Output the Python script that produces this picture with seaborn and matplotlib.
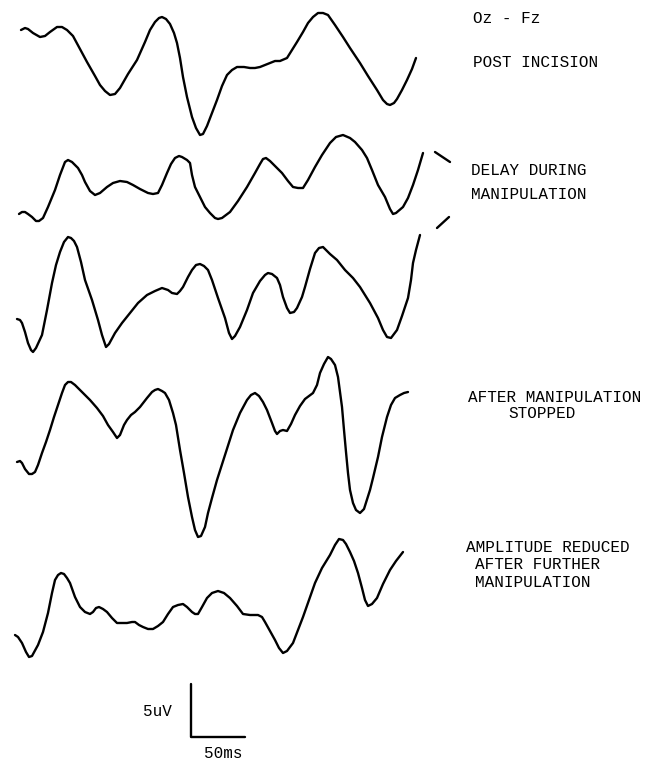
import pandas as pd
import matplotlib.pyplot as plt
import seaborn as sns

# Evoked potential traces (Oz - Fz).
# x = horizontal position, y = vertical position (image units, y grows downward)

post_incision_x = [21, 25, 28, 33, 40, 45, 50, 57, 62, 67, 73, 80, 87, 95, 100, 105, 110, 115, 120, 128, 137, 145,
                   150, 155, 159, 162, 166, 170, 174, 177, 180, 183, 187, 192, 196, 200, 203, 207, 212, 217, 222,
                   227, 232, 237, 244, 250, 255, 260, 265, 270, 275, 280, 287, 292, 297, 303, 308, 313, 318, 323,
                   328, 335, 343, 350, 360, 368, 377, 383, 387, 390, 394, 397, 402, 407, 412, 416]
post_incision_y = [30, 28, 29, 33, 37, 36, 32, 27, 27, 30, 36, 49, 62, 76, 85, 91, 95, 94, 88, 74, 60, 42,
                   30, 22, 18, 17, 19, 24, 33, 43, 58, 77, 97, 117, 128, 135, 134, 126, 113, 100, 86,
                   75, 70, 67, 67, 68, 68, 67, 65, 63, 61, 61, 58, 50, 42, 32, 23, 17, 13, 13,
                   15, 25, 37, 48, 63, 76, 90, 100, 104, 105, 103, 99, 90, 80, 69, 58]

delay_x = [19, 22, 25, 28, 32, 36, 39, 43, 48, 55, 60, 65, 68, 72, 78, 82, 85, 90, 95, 100, 107, 113, 120, 127,
           133, 140, 148, 153, 158, 162, 167, 171, 175, 179, 182, 187, 190, 192, 195, 200, 205, 210, 215, 218,
           222, 230, 238, 247, 255, 260, 263, 266, 270, 275, 282, 288, 293, 298, 303, 308, 315, 322, 330, 336,
           343, 350, 355, 362, 367, 372, 378, 385, 390, 393, 396, 403, 408, 413, 418, 423]
delay_y = [214, 212, 212, 214, 217, 221, 221, 218, 207, 190, 175, 162, 160, 162, 168, 175, 182, 191, 195, 193, 187, 183, 181, 182,
           185, 189, 193, 194, 193, 185, 173, 164, 158, 156, 157, 160, 163, 175, 187, 197, 207, 213, 218, 219,
           218, 212, 201, 187, 173, 164, 159, 158, 161, 166, 173, 181, 187, 188, 188, 180, 167, 155, 143, 137,
           135, 138, 142, 150, 158, 170, 185, 197, 209, 214, 213, 207, 198, 185, 170, 153]

third_x = [17, 20, 22, 25, 28, 31, 33, 36, 42, 47, 52, 56, 60, 64, 68, 71, 74, 77, 81, 85, 92, 98, 102, 106, 109,
           115, 122, 130, 138, 147, 155, 162, 168, 172, 177, 180, 183, 188, 192, 196, 200, 204, 208, 212, 218,
           225, 229, 232, 235, 240, 247, 253, 260, 265, 268, 272, 277, 280, 283, 287, 290, 294, 297, 302, 305,
           310, 315, 319, 323, 330, 337, 345, 353, 360, 370, 378, 383, 387, 391, 397, 402, 408, 411, 413, 416, 420]
third_y = [319, 320, 323, 332, 343, 350, 352, 348, 335, 310, 283, 265, 252, 242, 237, 238, 241, 247, 262, 280, 300, 320, 335, 347, 344,
           333, 323, 313, 303, 295, 291, 288, 290, 293, 294, 291, 287, 277, 270, 265, 264, 266, 270, 280, 298,
           318, 333, 339, 336, 327, 310, 293, 281, 275, 273, 274, 278, 285, 297, 308, 313, 312, 308, 297, 287,
           269, 253, 248, 247, 254, 260, 270, 278, 287, 303, 318, 330, 337, 338, 330, 316, 298, 280, 263, 250, 235]

stopped_x = [17, 20, 22, 25, 29, 32, 35, 38, 42, 46, 50, 54, 58, 62, 65, 68, 71, 75, 83, 90, 97, 103, 108, 113, 117,
             120, 124, 127, 131, 135, 140, 147, 152, 155, 158, 162, 165, 169, 173, 176, 180, 184, 188, 192, 195,
             198, 201, 205, 208, 212, 217, 225, 233, 240, 247, 251, 255, 259, 263, 267, 272, 275, 277, 280, 283,
             287, 291, 295, 300, 305, 309, 313, 317, 320, 324, 328, 331, 335, 338, 340, 342, 344, 346, 348, 350,
             353, 356, 360, 364, 370, 373, 378, 382, 387, 391, 395, 400, 404, 408]
stopped_y = [462, 461, 463, 469, 474, 474, 472, 465, 453, 442, 430, 417, 405, 393, 385, 382, 382, 385, 393, 400, 408, 416, 425, 432, 438,
             435, 425, 420, 415, 412, 407, 398, 392, 390, 389, 391, 393, 400, 413, 425, 450, 473, 497, 517, 530,
             537, 536, 527, 513, 498, 480, 455, 430, 413, 400, 395, 393, 396, 402, 410, 423, 431, 434, 431, 430,
             431, 424, 415, 406, 399, 396, 393, 385, 373, 364, 357, 359, 365, 377, 392, 407, 430, 452, 473, 490,
             503, 510, 513, 509, 490, 478, 457, 437, 417, 405, 398, 395, 393, 392]

reduced_x = [15, 18, 22, 26, 29, 32, 38, 43, 48, 52, 55, 58, 61, 64, 67, 70, 75, 80, 85, 90, 93, 96, 99, 103, 107,
             112, 117, 122, 127, 132, 135, 139, 143, 148, 153, 158, 163, 168, 173, 178, 183, 187, 192, 195, 198,
             202, 207, 212, 218, 224, 230, 237, 243, 250, 258, 262, 265, 270, 275, 279, 283, 287, 293, 298, 303,
             309, 315, 322, 330, 335, 339, 343, 346, 350, 354, 358, 362, 365, 368, 372, 377, 383, 390, 396, 403]
reduced_y = [635, 637, 643, 652, 657, 656, 645, 632, 613, 593, 580, 575, 573, 574, 578, 583, 597, 607, 612, 614, 612, 608, 607, 609, 612,
             618, 623, 623, 623, 622, 622, 625, 627, 629, 629, 626, 622, 614, 607, 605, 604, 607, 612, 614, 614,
             607, 598, 593, 591, 593, 598, 606, 614, 615, 615, 617, 622, 631, 640, 648, 653, 651, 643, 630, 617,
             600, 583, 568, 555, 545, 539, 540, 544, 552, 561, 573, 588, 600, 606, 604, 598, 584, 570, 561, 552]

# bracket ticks beside the delayed trace
bracket_x = [435, 450, 437, 449]
bracket_y = [152, 162, 228, 217]

# calibration bar: 5uV vertical, 50ms horizontal
calib_x = [191, 191, 245]
calib_y = [684, 737, 737]

labels = [
    ("Oz - Fz", 473, 23),
    ("POST INCISION", 473, 67),
    ("DELAY DURING", 471, 175),
    ("MANIPULATION", 471, 199),
    ("AFTER MANIPULATION", 468, 402),
    ("STOPPED", 508, 418),
    ("AMPLITUDE REDUCED", 466, 552),
    ("AFTER FURTHER", 475, 569),
    ("MANIPULATION", 475, 587),
    ("5uV", 143, 716),
    ("50ms", 204, 758),
]

traces = {
    "post incision": (post_incision_x, post_incision_y),
    "delay": (delay_x, delay_y),
    "third": (third_x, third_y),
    "stopped": (stopped_x, stopped_y),
    "reduced": (reduced_x, reduced_y),
}
frames = [pd.DataFrame({"x": xs, "y": ys, "trace": name}) for name, (xs, ys) in traces.items()]
df = pd.concat(frames, ignore_index=True)

sns.set_style("white")
fig = plt.figure(figsize=(6.58, 7.61), dpi=100)
ax = fig.add_axes([0, 0, 1, 1])

line_kw = dict(color="black", linewidth=1.7, solid_joinstyle="round", solid_capstyle="round")

sns.lineplot(data=df, x="x", y="y", units="trace", estimator=None, sort=False, ax=ax, **line_kw)

# bracket marks (two separate short strokes)
for i in range(0, len(bracket_x), 2):
    sns.lineplot(x=bracket_x[i:i + 2], y=bracket_y[i:i + 2], sort=False, estimator=None, ax=ax, **line_kw)

sns.lineplot(x=calib_x, y=calib_y, sort=False, estimator=None, ax=ax, **line_kw)

for text, x, y in labels:
    ax.text(x, y, text, fontsize=11.5, family=["Liberation Mono", "DejaVu Sans Mono"],
            ha="left", va="baseline", color="black")

ax.set_xlim(0, 658)
ax.set_ylim(761, 0)
ax.axis("off")

fig.savefig("out.png", dpi=100, facecolor="white")
